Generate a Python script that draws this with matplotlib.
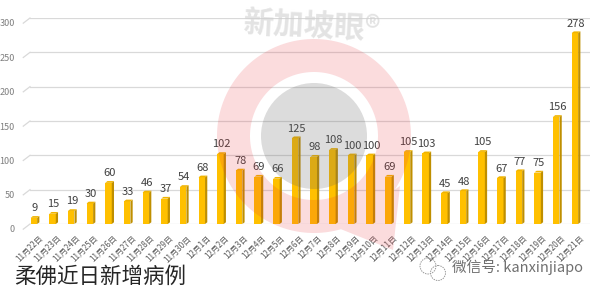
import numpy as np
import matplotlib
matplotlib.use('Agg')
import matplotlib.pyplot as plt
from matplotlib.patches import Polygon, Circle, PathPatch
from matplotlib.path import Path
from matplotlib.transforms import ScaledTranslation

plt.rcParams['font.family'] = ['Noto Sans CJK SC', 'DejaVu Sans']

# data
dates = ['11月22日', '11月23日', '11月24日', '11月25日', '11月26日', '11月27日',
         '11月28日', '11月29日', '11月30日'] + ['12月%d日' % d for d in range(1, 22)]
cases = [9, 15, 19, 30, 60, 33, 46, 37, 54, 68, 102, 78, 69, 66, 125,
         98, 108, 100, 100, 69, 105, 103, 45, 48, 105, 67, 77, 75, 156, 278]
yticks = [0, 50, 100, 150, 200, 250, 300]

title = '柔佛近日新增病例'
wechat = '微信号: kanxinjiapo'
watermark = '新加坡眼®'

W, H = 602, 295
fig = plt.figure(figsize=(W / 100, H / 100), dpi=100)
ax = fig.add_axes([30 / W, 71 / H, 560 / W, 206 / H])

x = np.arange(len(cases))
w = 0.35      # front face width
dx = 0.12     # depth (x)
dy = 2.5      # depth (y, data units)
front_col = '#FFC000'
side_col = '#BF8F00'
top_col = '#F0B400'

ax.bar(x - dx / 2, cases, width=w, color=front_col, zorder=3, linewidth=0)
for xi, v in zip(x, cases):
    xr = xi - dx / 2 + w / 2
    xl = xi - dx / 2 - w / 2
    ax.add_patch(Polygon([(xr, 0), (xr + dx, dy), (xr + dx, v + dy), (xr, v)],
                         closed=True, color=side_col, zorder=3, lw=0))
    ax.add_patch(Polygon([(xl, v), (xl + dx, v + dy), (xr + dx, v + dy), (xr, v)],
                         closed=True, color=top_col, zorder=3, lw=0))
    ax.text(xi, v + dy + 4, str(v), ha='center', va='bottom', fontsize=8,
            color='#404040', zorder=4)

ax.set_xlim(-0.268, 29.75)
ax.set_ylim(0, 300)
ax.set_yticks(yticks)
ax.set_yticklabels([str(t) for t in yticks], fontsize=6.5, color='#7f7f7f')
ax.set_xticks(x)
ax.set_xticklabels(dates, rotation=45, ha='right', va='top', rotation_mode='anchor',
                   fontsize=5.8, color='#595959')
ax.tick_params(axis='both', length=0)
ax.tick_params(axis='y', pad=11)
ax.tick_params(axis='x', pad=7)
for lab in ax.get_yticklabels():
    lab.set_transform(lab.get_transform() + ScaledTranslation(0, -0.05, fig.dpi_scale_trans))
for lab in ax.get_xticklabels():
    lab.set_transform(lab.get_transform() + ScaledTranslation(0.03, 0, fig.dpi_scale_trans))

ax.grid(axis='y', color='#d9d9d9', linewidth=0.9, zorder=0)
for t in yticks:
    ax.plot([-0.268 - 0.36, -0.268], [t - 7.5, t], color='#d9d9d9', lw=0.9,
            clip_on=False, zorder=0)
for s in ax.spines.values():
    s.set_visible(False)

# overlay in pixel coordinates for watermark and captions
ov = fig.add_axes([0, 0, 1, 1], zorder=10)
ov.set_xlim(0, W)
ov.set_ylim(H, 0)
ov.axis('off')
ov.patch.set_alpha(0)

cx, cy = 314, 136
t = np.linspace(0, 2 * np.pi, 200)
outer = np.column_stack([cx + 97 * np.cos(t), cy + 97 * np.sin(t)])
inner = np.column_stack([cx + 64 * np.cos(t[::-1]), cy + 64 * np.sin(t[::-1])])
tail = np.array([[338, 228], [400, 186], [393, 250], [338, 228]])
verts = np.vstack([outer, inner, tail])
codes = ([Path.MOVETO] + [Path.LINETO] * (len(outer) - 1) +
         [Path.MOVETO] + [Path.LINETO] * (len(inner) - 1) +
         [Path.MOVETO] + [Path.LINETO] * (len(tail) - 1))
ov.add_patch(PathPatch(Path(verts, codes), facecolor='#E8303A', alpha=0.17, lw=0))
ov.add_patch(Circle((cx, cy), 53, facecolor='#606060', alpha=0.22, lw=0))

ov.text(312, 27, watermark, ha='center', va='center', fontsize=22, fontweight='bold',
        color='#d0d0d0', alpha=0.6, rotation=-3)

ov.text(14, 277, title, ha='left', va='center', fontsize=15.5, color='#262626')

# wechat icon
ov.add_patch(Circle((428, 266), 8, fill=False, ec='#9a9a9a', lw=0.7, ls=(0, (1.5, 1))))
ov.add_patch(Circle((438, 273), 7.5, fill=False, ec='#9a9a9a', lw=0.7, ls=(0, (1.5, 1))))
ov.text(452, 267, wechat, ha='left', va='center', fontsize=10.5, color='#707070')

fig.savefig('out.png', dpi=100)
